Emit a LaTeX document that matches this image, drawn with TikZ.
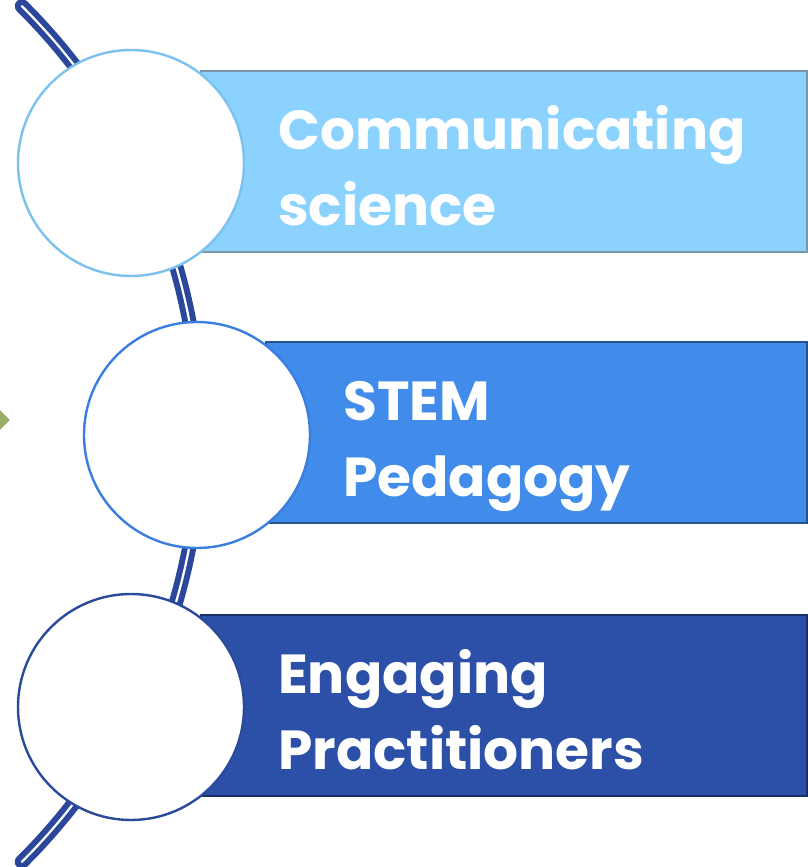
\documentclass[tikz,border=0pt]{standalone}
\usepackage{fontspec}
\setmainfont{Poppins}
\usetikzlibrary{shapes.geometric}

\definecolor{lightbar}{HTML}{8CD2FF}
\definecolor{lightring}{HTML}{7CC2EE}
\definecolor{midbar}{HTML}{418BEB}
\definecolor{midring}{HTML}{3A7EDF}
\definecolor{darkbar}{HTML}{2C50A8}
\definecolor{darkring}{HTML}{2A4A9C}
\definecolor{spine}{HTML}{2A479C}
\definecolor{marker}{HTML}{9BAF6A}

\tikzset{
  bar/.style={rectangle, anchor=south west, minimum height=181pt, line width=1.5pt, inner sep=0pt},
  ring/.style={circle, fill=white, minimum size=226pt, line width=2.4pt, inner sep=0pt},
  label/.style={anchor=base west, align=left, text=white, inner sep=0pt,
    font=\bfseries\fontsize{55}{76}\selectfont}
}

\begin{document}
\begin{tikzpicture}[x=1pt,y=1pt]
\useasboundingbox (0,0) rectangle (808,867);

% Centre of the big arc behind the circles
\coordinate (arcc) at (-403,433);

% Small marker at the left border
\node [diamond, fill=marker, minimum size=30pt, inner sep=0pt] (mark) at (-5,447) {};

% The arc, drawn as a double line
\draw [spine, line width=6pt, line cap=round, double=white, double distance=2.2pt]
  ([shift={(45.2:603)}]arcc) coordinate (top) arc (45.2:-45.2:603) coordinate (bottom);

% Bars
\node [bar, fill=lightbar, draw=lightbar!55!black!75, minimum width=606pt] (bar1) at (200,614) {};
\node [bar, fill=midbar, draw=midbar!60!black, minimum width=541pt] (bar2) at (265,343) {};
\node [bar, fill=darkbar, draw=darkbar!60!black, minimum width=606pt] (bar3) at (200,70) {};

% Circles on top of the bars
\node [ring, draw=lightring] (c1) at (131,704) {};
\node [ring, draw=midring] (c2) at (197,432) {};
\node [ring, draw=darkring] (c3) at (131,160) {};

% Texts (anchored at the baseline of the last line)
\node [label] (t1) at (278,641) {Communicating\\science};
\node [label] (t2) at (343,370) {STEM\\Pedagogy};
\node [label] (t3) at (278,97) {Engaging\\Practitioners};

\end{tikzpicture}
\end{document}
